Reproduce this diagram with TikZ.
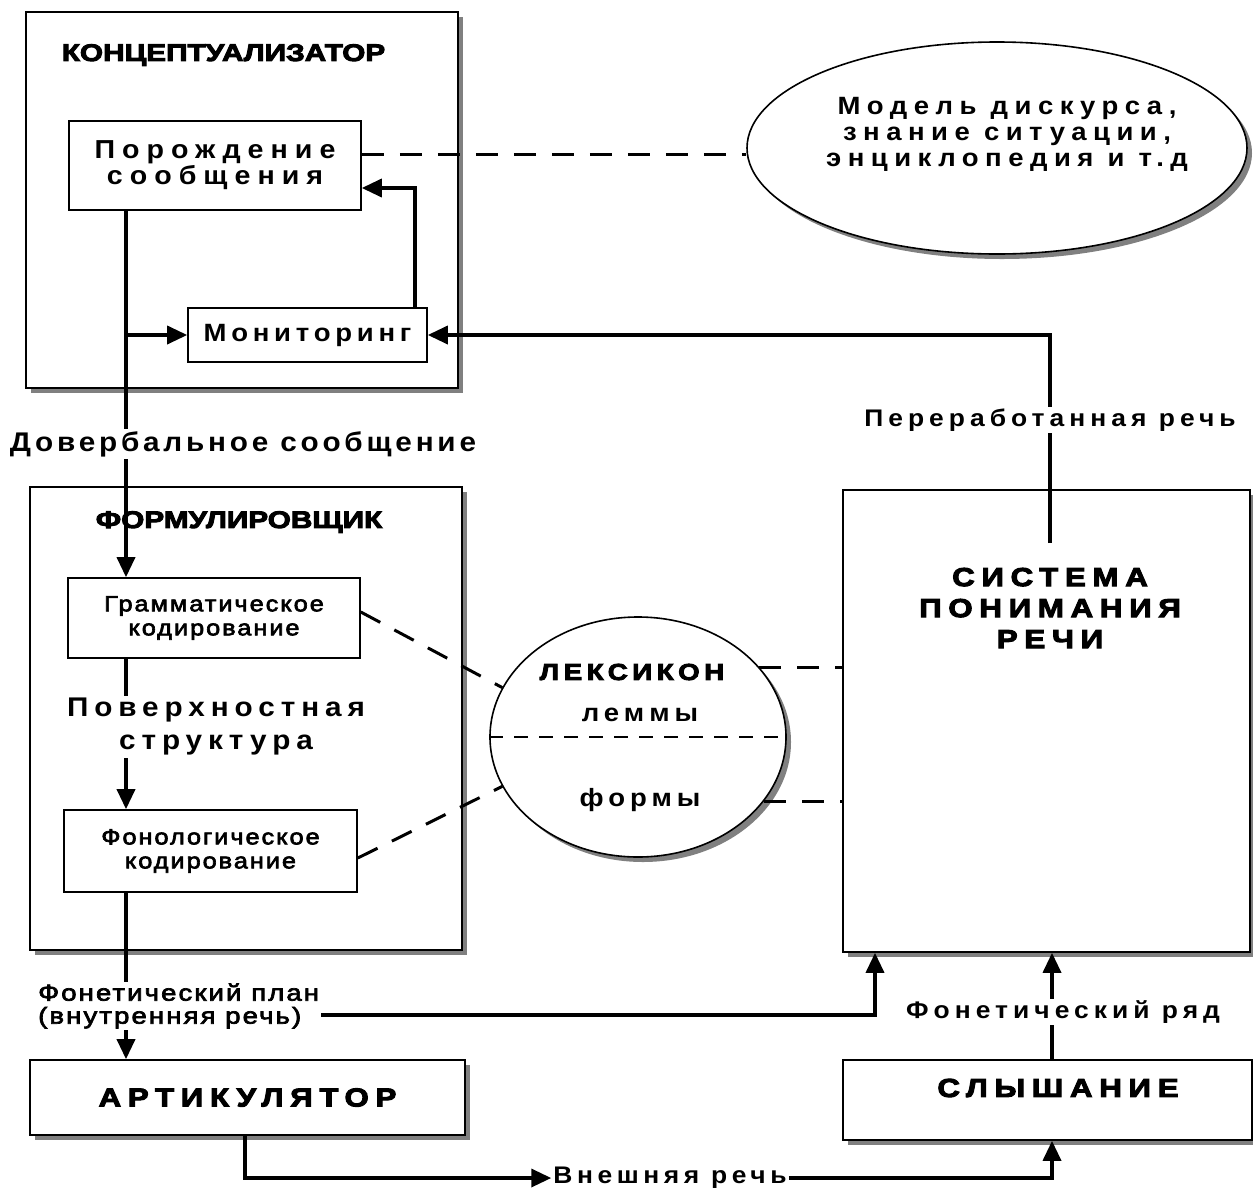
\documentclass[tikz,border=0pt]{standalone}
\usepackage{fontspec}
\setmainfont{Liberation Sans}
\usetikzlibrary{arrows.meta,shapes.geometric,calc}
\tikzset{
  box/.style={draw, line width=1.6pt, fill=white, inner sep=0pt},
  shad/.style={preaction={fill=black!50, draw=none, transform canvas={shift={(5pt,-5pt)}}}},
  arr/.style={line width=3.5pt, -{Triangle[length=20pt,width=18pt]}},
  dsh/.style={line width=3pt, dash pattern=on 22pt off 16pt},
  thindsh/.style={line width=2pt, dash pattern=on 14pt off 11pt},
  lbl/.style={fill=white, inner sep=2pt, align=center},
  fpor/.style={font=\fontsize{26}{26}\selectfont\bfseries\addfontfeature{FakeStretch=1.1,LetterSpace=27}, align=center},
  fmon/.style={font=\fontsize{25}{26}\selectfont\bfseries\addfontfeature{FakeStretch=1.1,LetterSpace=19}},
  fmod/.style={font=\fontsize{25}{26}\selectfont\bfseries\addfontfeature{FakeStretch=1.1,LetterSpace=26}, align=center},
  fdov/.style={font=\fontsize{27}{28}\selectfont\bfseries\addfontfeature{FakeStretch=1.1,LetterSpace=14}},
  fsurf/.style={font=\fontsize{27}{33}\selectfont\bfseries\addfontfeature{FakeStretch=1.1,LetterSpace=22}},
  fmid/.style={font=\fontsize{24}{26}\selectfont\bfseries\addfontfeature{FakeStretch=1.1,LetterSpace=21}},
  fext/.style={font=\fontsize{24}{26}\selectfont\bfseries\addfontfeature{FakeStretch=1.1,LetterSpace=19}},
  flem/.style={font=\fontsize{25}{26}\selectfont\bfseries\addfontfeature{FakeStretch=1.1,LetterSpace=20}},
  fsmall/.style={font=\fontsize{22}{24}\selectfont\addfontfeature{FakeStretch=1.15,LetterSpace=9,FakeBold=3}, align=center},
  fplan/.style={font=\fontsize{23}{23}\selectfont\addfontfeature{FakeStretch=1.2,LetterSpace=9,FakeBold=3}},
  ftitle/.style={font=\fontsize{24}{26}\selectfont\bfseries\addfontfeature{FakeStretch=1.24,FakeBold=4}},
  fbsp/.style={font=\fontsize{26}{31}\selectfont\bfseries\addfontfeature{FakeStretch=1.2,LetterSpace=26,FakeBold=4}, align=center},
  flex/.style={font=\fontsize{23}{26}\selectfont\bfseries\addfontfeature{FakeStretch=1.2,LetterSpace=20,FakeBold=4}},
}
\begin{document}
\begin{tikzpicture}[x=1pt,y=-1pt]
\useasboundingbox (0,0) rectangle (1253,1192);
\fill[white] (0,0) rectangle (1253,1192);

% helper coordinates
\coordinate (xL) at (126,0);
\coordinate (xM) at (415,0);
\coordinate (yM) at (0,188);
\coordinate (yD) at (0,154);
\coordinate (feed) at (1050,543);
\coordinate (xA) at (245,0);
\coordinate (xH) at (1052,0);
\coordinate (xP) at (875,0);
\coordinate (yP) at (0,1015);

% containers
\node[box,shad,minimum width=432,minimum height=376] (konz) at (242,200) {};
\node[box,shad,minimum width=432,minimum height=463] (form) at (246,718.5) {};
\node[box,shad,minimum width=407,minimum height=462] (sys) at (1046.5,721) {};
\node[box,shad,minimum width=435,minimum height=75,fbsp] (art) at (247.5,1097.5) {АРТИКУЛЯТОР};
\node[box,shad,minimum width=409,minimum height=80] (hear) at (1047.5,1100) {};
\node[box,shad,ellipse,minimum width=500,minimum height=212] (model) at (997,148) {};
\node[box,shad,ellipse,minimum width=296,minimum height=240] (lex) at (638,737) {};

% inner boxes
\node[box,minimum width=292,minimum height=89,fpor] (por) at (215,165.5) {Порождение\\сообщения};
\node[box,minimum width=239,minimum height=54,fmon] (mon) at (307.5,335) {Мониторинг};
\node[box,minimum width=292,minimum height=80,fsmall] (gram) at (214,618) {Грамматическое\\кодирование};
\node[box,minimum width=293,minimum height=82,fsmall] (phon) at (210.5,851) {Фонологическое\\кодирование};

% titles and texts
\node[ftitle] (ktitle) at (223.5,55) {КОНЦЕПТУАЛИЗАТОР};
\node[ftitle] (ftitle) at (239,522) {ФОРМУЛИРОВЩИК};
\node[fmod] (modtext) at (1007,134) {Модель дискурса,\\знание ситуации,\\энциклопедия и т.д};
\node[fbsp] (systext) at (1050,608) {СИСТЕМА\\ПОНИМАНИЯ\\РЕЧИ};
\node[fbsp] (heartext) at (1058,1088) {СЛЫШАНИЕ};
\node[flex] (lextitle) at (632,672) {ЛЕКСИКОН};
\node[flem] (lemmy) at (640,715) {леммы};
\node[flem] (formy) at (640,800) {формы};

% connectors
\draw[arr] (por.south -| xL) -- (gram.north -| xL);
\draw[arr] (mon.west -| xL) -- (mon.west);
\draw[arr] (mon.north -| xM) |- (por.east |- yM);
\draw[dsh] (por.east |- yD) -- (model.west |- yD);
\draw[arr] (feed) |- (mon.east);
\draw[arr] (gram.south -| xL) -- (phon.north -| xL);
\draw[arr] (phon.south -| xL) -- (art.north -| xL);
\draw[dsh] (gram.east |- 0,612) -- (lex.160);
\draw[dsh] (phon.east |- 0,858) -- (lex.200);
\draw[dsh] (lex.30) -- (lex.30 -| sys.west);
\draw[dsh] (lex.-27) -- (lex.-27 -| sys.west);
\draw[thindsh] (lex.west) -- (lex.east);
\draw[arr] (hear.north -| xH) -- (sys.south -| xH);

% labels on lines
\node[lbl,fdov] (dover) at (243,444) {Довербальное сообщение};
\node[lbl,fsurf] (surf) at (216,727) {Поверхностная\\структура};
\node[lbl,fplan,align=left,anchor=west] (plan) at (36,1006) {Фонетический план\\(внутренняя речь)};
\node[lbl,fmid] (prow) at (1063,1012) {Фонетический ряд};
\node[lbl,fmid] (perer) at (1050,420) {Переработанная речь};
\node[lbl,fext] (ext) at (670,1178) {Внешняя речь};

\draw[arr] (plan.east |- yP) -| (sys.south -| xP);
\draw[arr] (art.south -| xA) |- (ext.west);
\draw[arr] (ext.east) -| (hear.south -| xH);
\end{tikzpicture}
\end{document}
